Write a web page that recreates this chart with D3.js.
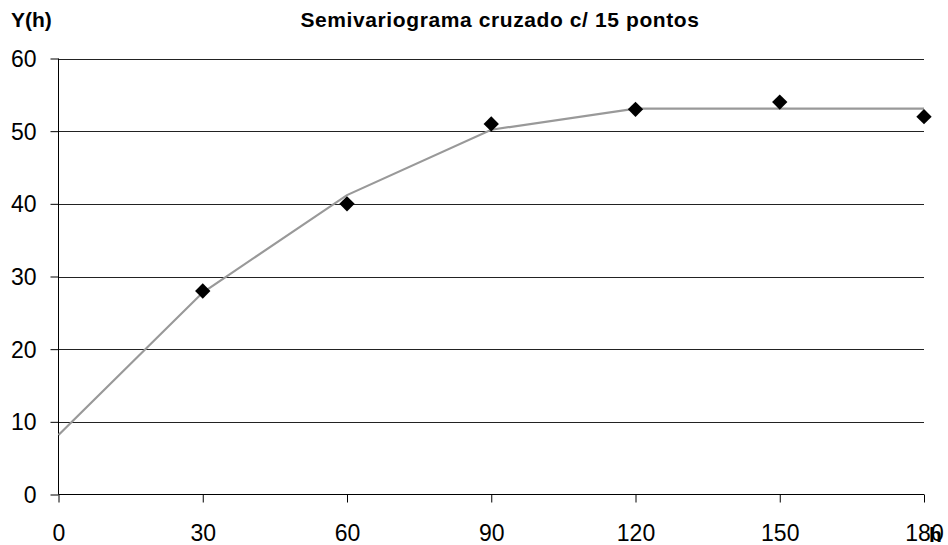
<!DOCTYPE html>
<html>
<head>
<meta charset="utf-8">
<script src="https://cdn.jsdelivr.net/npm/d3@7"></script>
<style>
  html, body { margin: 0; padding: 0; background: #fff; }
  svg { display: block; font-family: "Liberation Sans", Arial, sans-serif; }
</style>
</head>
<body>
<svg id="chart" width="948" height="545"></svg>
<script>
// Lag distances (h) and experimental semivariance values
const lags = [30, 60, 90, 120, 150, 180];
const semivariance = [28, 40, 51, 53, 54, 52];

// Fitted model curve vertices
const modelLags = [0, 30, 60, 90, 120, 150, 180];
const modelValues = [8.2, 27.8, 41.2, 50.2, 53.1, 53.1, 53.1];

// Axis ticks
const xTicks = [0, 30, 60, 90, 120, 150, 180];
const yTicks = [0, 10, 20, 30, 40, 50, 60];

const titleText = "Semivariograma cruzado c/ 15 pontos";
const yTitle = "Y(h)";
const xTitle = "h";

const svg = d3.select("#chart");

const x = d3.scaleLinear().domain([0, 180]).range([58.5, 924]);
const y = d3.scaleLinear().domain([0, 60]).range([494.5, 58.5]);

// Horizontal gridlines
svg.append("g")
  .selectAll("line")
  .data(yTicks.filter(d => d > 0))
  .join("line")
  .attr("x1", x(0)).attr("x2", x(180))
  .attr("y1", d => Math.round(y(d)) + 0.5)
  .attr("y2", d => Math.round(y(d)) + 0.5)
  .attr("stroke", "#222").attr("stroke-width", 1);

// Y axis
const yAxis = d3.axisLeft(y).tickValues(yTicks).tickSize(8).tickPadding(14)
  .tickFormat(d3.format("d"));
const gy = svg.append("g").attr("transform", `translate(${x(0)},0)`).call(yAxis);
gy.select(".domain").attr("stroke", "#000").attr("d", `M0,${y(0)}V${y(60)}`);
gy.selectAll(".tick line").attr("stroke", "#000");
gy.selectAll(".tick text")
  .attr("font-size", 23).attr("fill", "#000")
  .attr("font-family", "Liberation Sans, Arial, sans-serif")
  .attr("dy", "0.35em").attr("x", -22);

// X axis
const xAxis = d3.axisBottom(x).tickValues(xTicks).tickSize(8).tickPadding(20)
  .tickFormat(d3.format("d"));
const gx = svg.append("g").attr("transform", `translate(0,${y(0)})`).call(xAxis);
gx.select(".domain").attr("stroke", "#000").attr("d", `M${x(0)},0H${x(180)}`);
gx.selectAll(".tick line").attr("stroke", "#000");
gx.selectAll(".tick text")
  .attr("font-size", 23).attr("fill", "#000")
  .attr("font-family", "Liberation Sans, Arial, sans-serif")
  .attr("dy", "0.71em").attr("y", 30);

// Model curve
const line = d3.line().x((d, i) => x(modelLags[i])).y(d => y(d));
svg.append("path")
  .datum(modelValues)
  .attr("d", line)
  .attr("fill", "none")
  .attr("stroke", "#999")
  .attr("stroke-width", 2.2);

// Experimental points (diamonds)
const diamond = d3.symbol().type(d3.symbolDiamond2).size(150);
svg.append("g")
  .selectAll("path")
  .data(lags.map((h, i) => ({ h, v: semivariance[i] })))
  .join("path")
  .attr("d", diamond)
  .attr("transform", d => `translate(${x(d.h)},${y(d.v)})`)
  .attr("fill", "#000");

// Titles
svg.append("text")
  .attr("x", 500).attr("y", 27)
  .attr("text-anchor", "middle")
  .attr("font-size", 21).attr("font-weight", "bold")
  .attr("letter-spacing", 0.6)
  .text(titleText);

svg.append("text")
  .attr("x", 11).attr("y", 27)
  .attr("font-size", 21).attr("font-weight", "bold")
  .text(yTitle);

svg.append("text")
  .attr("x", 929).attr("y", 542)
  .attr("font-size", 21).attr("font-weight", "bold")
  .text(xTitle);
</script>
</body>
</html>
